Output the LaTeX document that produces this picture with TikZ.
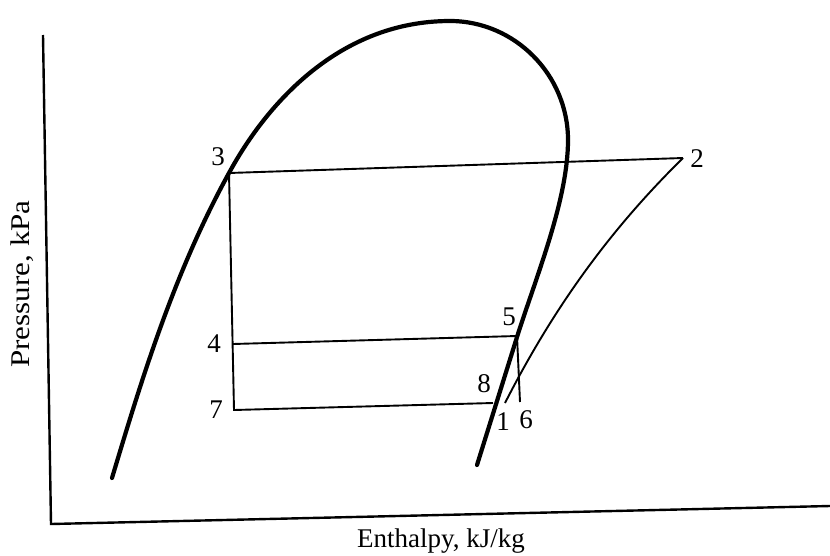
\documentclass[tikz,border=0pt]{standalone}
\usepackage{fontspec}
\setmainfont{Liberation Serif}
\begin{document}
\begin{tikzpicture}[x=1pt,y=-1pt,
  lbl/.style={font=\fontsize{27}{29}\selectfont, inner sep=0pt},
  dome/.style={line width=4.2pt, line cap=round},
  thinln/.style={line width=1.9pt},
  axis/.style={line width=2.4pt}]
\useasboundingbox (0,0) rectangle (830,555);
% axes
\coordinate (ytop) at (43,35);
\coordinate (org) at (51,524);
\coordinate (xend) at (830,506);
\draw[axis] (ytop) -- (org) -- (xend);
% saturation dome
\draw[dome] (112,478) .. controls (142,378) and (174,273) .. (229,173)
  .. controls (267,103) and (340,21) .. (450,21)
  .. controls (515,21) and (568,75) .. (568,140)
  .. controls (568,200) and (536,277) .. (517,337) -- (477,465);
% state points
\coordinate (p3) at (229,173);
\coordinate (p2) at (683,158);
\coordinate (p4) at (233,344);
\coordinate (p5) at (517,336);
\coordinate (p7) at (234,410);
\coordinate (p8) at (493,403);
\coordinate (p1) at (505,403);
\coordinate (p6) at (520,402);
% cycle lines
\draw[thinln] (p3) -- (p2);
\draw[thinln] (p3) -- (p7) -- (p8);
\draw[thinln] (p4) -- (p5);
\draw[thinln] (p5) -- (p6);
\draw[thinln] (p2) .. controls (620,220) and (560,295) .. (p1);
% labels
\node[lbl] (l3) at (218,157) {3};
\node[lbl] (l2) at (697,159) {2};
\node[lbl] (l4) at (214,344) {4};
\node[lbl] (l5) at (509,317) {5};
\node[lbl] (l8) at (484,384) {8};
\node[lbl] (l7) at (216,410) {7};
\node[lbl] (l1) at (503,422) {1};
\node[lbl] (l6) at (526,420) {6};
\node[lbl, rotate=90] (ylab) at (22,284) {\scalebox{1.15}[1]{Pressure, kPa}};
\node[lbl] (xlab) at (441,541) {Enthalpy, kJ/kg};
\end{tikzpicture}
\end{document}
